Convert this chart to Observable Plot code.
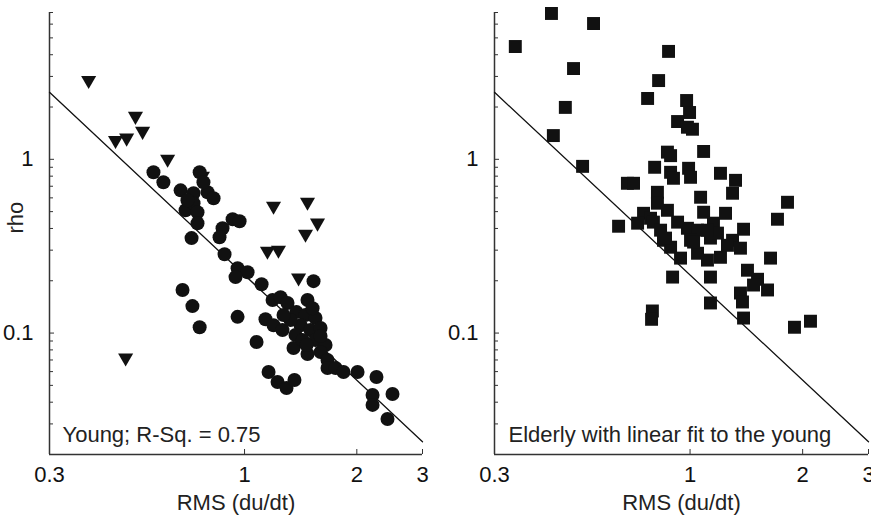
<!DOCTYPE html>
<html><head><meta charset="utf-8">
<script src="https://cdn.jsdelivr.net/npm/d3@7"></script>
<script src="https://cdn.jsdelivr.net/npm/@observablehq/plot@0.6"></script>
<style>
body{margin:0;background:#fff;}
#wrap{display:flex;width:871px;height:516px;overflow:hidden;background:#fff;}
</style></head><body><div id="wrap"></div>
<script>
// ---- data ----
const xDomain = [0.3, 3];
const yDomain = [0.02, 7];
const xTicks = [0.3, 1, 2, 3];
const xTickLabels = ["0.3", "1", "2", "3"];
const yTicks = [0.1, 1];
const yTickLabels = ["0.1", "1"];
const yMinorTicks = [0.03, 0.04, 0.05, 0.06, 0.07, 0.08, 0.09, 0.2, 0.3, 0.4, 0.5, 0.6, 0.7, 0.8, 0.9, 2, 3, 4, 5, 6, 7];

// linear fit to the young (log-log)
const fitX = [0.3, 3];
const fitY = [2.43, 0.0237];

// Young: triangles
const youngTriX = [0.382, 0.451, 0.483, 0.510, 0.533, 0.622, 0.771, 1.196, 1.475, 1.569, 1.457, 1.152, 1.233, 1.396, 0.480];
const youngTriY = [2.77, 1.25, 1.29, 1.72, 1.41, 0.974, 0.778, 0.523, 0.551, 0.418, 0.361, 0.288, 0.292, 0.202, 0.070];

// Young: circles
const youngCircX = [0.570, 0.606, 0.758, 0.674, 0.730, 0.796, 0.826, 0.695, 0.730, 0.748, 0.748, 0.721, 0.873, 0.857, 0.929, 0.970, 0.884, 0.958, 1.019, 0.946, 1.111, 1.531, 0.682, 0.725, 0.758, 0.958, 1.138, 1.196, 1.264, 1.189, 1.249, 1.304, 1.077, 1.353, 1.475, 1.475, 1.378, 1.457, 1.550, 1.413, 1.503, 1.599, 1.370, 1.550, 1.649, 1.599, 1.669, 1.669, 1.754, 1.842, 2.009, 2.258, 2.204, 2.204, 2.493, 2.417, 1.160, 1.226, 1.296, 1.361, 1.328, 1.431, 1.522, 1.599, 1.272, 0.776, 0.703, 1.466];
const youngCircY = [0.842, 0.738, 0.842, 0.663, 0.638, 0.646, 0.597, 0.509, 0.559, 0.496, 0.429, 0.352, 0.401, 0.356, 0.452, 0.440, 0.284, 0.236, 0.224, 0.210, 0.191, 0.199, 0.177, 0.143, 0.108, 0.124, 0.120, 0.111, 0.104, 0.155, 0.161, 0.149, 0.0888, 0.0820, 0.0757, 0.155, 0.132, 0.127, 0.122, 0.111, 0.104, 0.107, 0.0974, 0.0912, 0.0853, 0.0777, 0.0700, 0.0629, 0.0629, 0.0597, 0.0597, 0.0559, 0.0440, 0.0386, 0.0446, 0.0320, 0.0597, 0.0523, 0.0483, 0.0537, 0.119, 0.0912, 0.139, 0.0961, 0.127, 0.738, 0.581, 0.0853];

// Elderly: squares
const elderlyX = [0.341, 0.426, 0.552, 0.488, 0.464, 0.431, 0.516, 0.876, 0.824, 0.770, 0.979, 0.997, 0.926, 0.984, 1.015, 0.870, 0.887, 1.087, 0.804, 0.887, 0.991, 0.903, 1.003, 1.206, 1.323, 0.680, 0.706, 1.299, 0.818, 1.067, 1.822, 0.818, 0.751, 0.784, 0.870, 0.644, 0.724, 0.798, 1.713, 1.390, 1.087, 1.244, 1.155, 0.926, 0.984, 1.047, 0.849, 0.887, 1.003, 1.134, 1.184, 1.299, 1.364, 0.943, 1.047, 1.113, 1.206, 1.641, 1.424, 0.898, 1.134, 1.515, 1.478, 1.611, 1.364, 1.381, 1.134, 0.793, 0.789, 1.390, 1.902, 2.099, 0.860, 1.113, 0.834, 1.022, 1.259];
const elderlyY = [4.46, 6.91, 6.05, 3.33, 1.99, 1.37, 0.911, 4.18, 2.84, 2.24, 2.18, 1.86, 1.65, 1.53, 1.49, 1.10, 1.05, 1.11, 0.900, 0.842, 0.888, 0.778, 0.788, 0.831, 0.757, 0.728, 0.728, 0.638, 0.646, 0.605, 0.566, 0.559, 0.489, 0.458, 0.509, 0.412, 0.429, 0.435, 0.452, 0.396, 0.496, 0.489, 0.429, 0.435, 0.401, 0.391, 0.342, 0.312, 0.342, 0.352, 0.376, 0.342, 0.308, 0.270, 0.288, 0.263, 0.273, 0.270, 0.230, 0.210, 0.210, 0.204, 0.189, 0.177, 0.170, 0.151, 0.149, 0.134, 0.120, 0.122, 0.108, 0.117, 0.352, 0.391, 0.391, 0.334, 0.320];

const xLabel = "RMS (du/dt)";
const yLabel = "rho";
const captionYoung = "Young; R-Sq. = 0.75";
const captionElderly = "Elderly with linear fit to the young";

// ---- rendering ----
const FONT = "'Liberation Sans', Arial, Helvetica, sans-serif";
const INK = "#111";
const zip = (xs, ys) => xs.map((x, i) => ({x, y: ys[i]}));

const triangleDown = {
  draw(ctx, size) {
    const y = Math.sqrt(size / (Math.sqrt(3) * 3));
    ctx.moveTo(0, 1.5 * y);
    ctx.lineTo(-Math.sqrt(3) * y, -1.5 * y);
    ctx.lineTo(Math.sqrt(3) * y, -1.5 * y);
    ctx.closePath();
  }
};

function panel({width, marginLeft, marginRight, rho, caption, captionDx, dots}) {
  return Plot.plot({
    width, height: 516,
    marginTop: 12, marginBottom: 62, marginLeft, marginRight,
    style: {fontFamily: FONT, fontSize: "22px", color: INK, background: "white"},
    x: {type: "log", domain: xDomain},
    y: {type: "log", domain: yDomain},
    marks: [
      Plot.axisX({ticks: xTicks, tickFormat: d => xTickLabels[xTicks.indexOf(d)], tickSize: -5, tickPadding: 17, fontSize: 22, label: null, stroke: "#333", fill: INK}),
      Plot.axisY({ticks: yMinorTicks, tickFormat: () => "", tickSize: -4, label: null, stroke: "#333"}),
      Plot.axisY({ticks: yTicks, tickFormat: d => yTickLabels[yTicks.indexOf(d)], tickSize: -5, tickPadding: 21, fontSize: 22, label: null, stroke: "#333", fill: INK}),
      Plot.ruleX([xDomain[0]], {stroke: "#333", strokeWidth: 1.5}),
      Plot.ruleY([yDomain[0]], {stroke: "#333", strokeWidth: 1.5}),
      Plot.line(zip(fitX, fitY), {x: "x", y: "y", stroke: INK, strokeWidth: 1.3}),
      ...dots,
      Plot.text([caption], {frameAnchor: "bottom-left", dx: captionDx, dy: -20, textAnchor: "start", lineAnchor: "middle", fontSize: 22, fill: "#222"}),
      Plot.text([xLabel], {frameAnchor: "bottom", dy: 48, lineAnchor: "middle", fontSize: 22, fill: "#222"}),
      rho ? Plot.text([yLabel], {frameAnchor: "left", dx: -34, rotate: -90, lineAnchor: "middle", fontSize: 22, fill: "#222"}) : null
    ]
  });
}

const left = panel({
  width: 440, marginLeft: 49, marginRight: 18, rho: true,
  caption: captionYoung, captionDx: 13,
  dots: [
    Plot.dot(zip(youngTriX, youngTriY), {x: "x", y: "y", symbol: triangleDown, r: 5.6, fill: INK, stroke: "none"}),
    Plot.dot(zip(youngCircX, youngCircY), {x: "x", y: "y", r: 7, fill: INK, stroke: "none"})
  ]
});
const right = panel({
  width: 431, marginLeft: 54, marginRight: 3, rho: false,
  caption: captionElderly, captionDx: 14,
  dots: [
    Plot.dot(zip(elderlyX, elderlyY), {x: "x", y: "y", symbol: "square", r: 7.3, fill: INK, stroke: "none"})
  ]
});
const wrap = document.getElementById("wrap");
wrap.appendChild(left);
wrap.appendChild(right);
</script></body></html>
